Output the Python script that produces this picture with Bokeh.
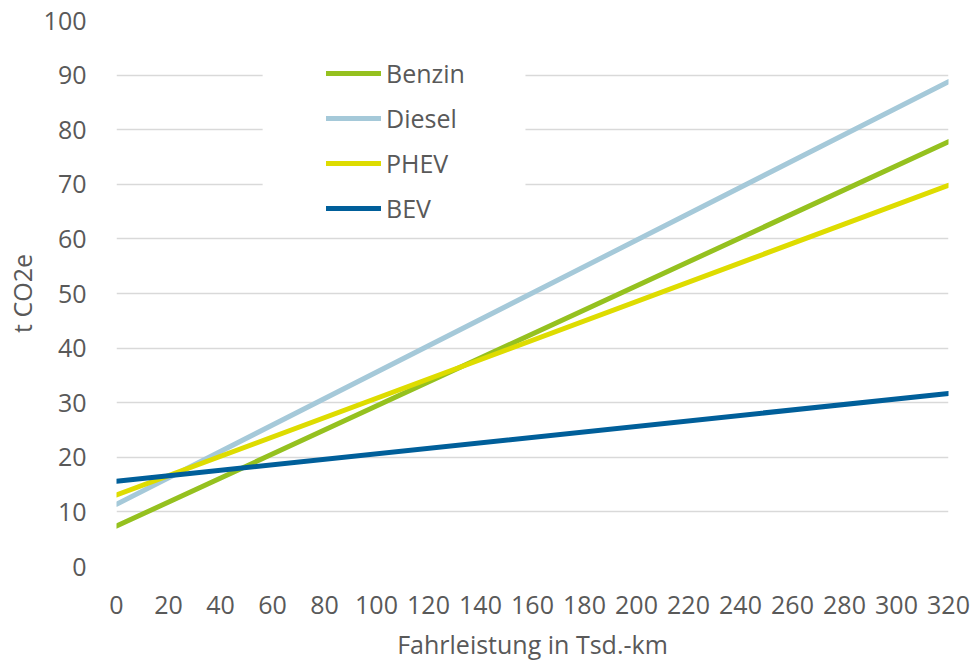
from bokeh.plotting import figure
from bokeh.models import Range1d, FixedTicker, Legend, LegendItem, BoxAnnotation
from bokeh.embed import file_html
from bokeh.resources import INLINE

# Lifecycle emissions (t CO2e) versus mileage (thousand km)
mileage = [0, 320]
benzin = [7.4, 77.8]
diesel = [11.4, 88.8]
phev = [13.1, 69.8]
bev = [15.6, 31.7]

series_names = ["Benzin", "Diesel", "PHEV", "BEV"]
series_values = [benzin, diesel, phev, bev]
series_colors = ["#95C11F", "#A5C9D9", "#DEDC00", "#005F9A"]

x_ticks = list(range(0, 321, 20))
y_ticks = list(range(0, 101, 10))

FONT = "Open Sans"
TEXT = "#595959"

p = figure(width=976, height=664, output_backend="svg", toolbar_location=None,
           x_range=Range1d(0, 320), y_range=Range1d(0, 100),
           min_border_left=116, min_border_right=28,
           min_border_top=20, min_border_bottom=98)
p.outline_line_color = None
p.background_fill_color = "white"
p.border_fill_color = "white"

for ax in (p.xaxis[0], p.yaxis[0]):
    ax.axis_line_color = None
    ax.major_tick_line_color = None
    ax.minor_tick_line_color = None
    ax.major_label_text_font = FONT
    ax.major_label_text_font_size = "25px"
    ax.major_label_text_color = TEXT
    ax.axis_label_text_font = FONT
    ax.axis_label_text_font_size = "25px"
    ax.axis_label_text_font_style = "normal"
    ax.axis_label_text_color = TEXT

p.xaxis.ticker = FixedTicker(ticks=x_ticks)
p.yaxis.ticker = FixedTicker(ticks=y_ticks)
p.xaxis.axis_label = "Fahrleistung in Tsd.-km"
p.yaxis.axis_label = "t CO2e"
p.xaxis.major_label_standoff = 23
p.yaxis.major_label_standoff = 24
p.xaxis.axis_label_standoff = 10
p.yaxis.axis_label_standoff = 2

p.xgrid.grid_line_color = None
p.ygrid.grid_line_color = "#D9D9D9"
p.ygrid.grid_line_width = 1.5

# white panel behind the legend interrupting the gridlines
p.add_layout(BoxAnnotation(left=56.2, right=157.3, bottom=61.6, top=94.6,
                           fill_color="white", fill_alpha=1.0, line_color=None,
                           level="underlay"))

items = []
for name, vals, col in zip(series_names, series_values, series_colors):
    r = p.line(mileage, vals, line_color=col, line_width=5, line_cap="round")
    items.append(LegendItem(label=name, renderers=[r]))

legend = Legend(items=items, location=(210, 341), orientation="vertical",
                background_fill_color="white", background_fill_alpha=0.0,
                border_line_color=None, padding=10, margin=0,
                glyph_width=55, glyph_height=34, label_height=34,
                label_standoff=5, spacing=11,
                label_text_font=FONT, label_text_font_size="25px",
                label_text_color=TEXT)
p.add_layout(legend)

open("out.html", "w").write(file_html(p, INLINE))
